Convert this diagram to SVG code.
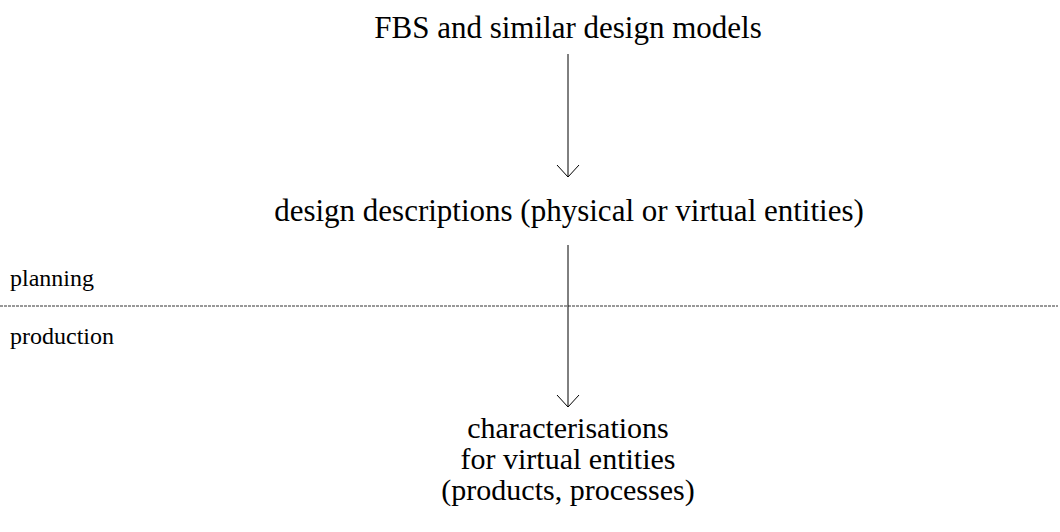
<svg xmlns="http://www.w3.org/2000/svg" width="1060" height="532" viewBox="0 0 1060 532">
  <style>
    text { font-family: 'Liberation Serif', 'Times New Roman', Times, serif; fill: #000; }
    .big { font-size: 31px; text-anchor: middle; }
    .stack { font-size: 30px; text-anchor: middle; }
    .small { font-size: 24px; }
    .arrow { stroke: #000; stroke-width: 1; fill: none; }
  </style>
  <defs>
    <!-- open V arrowhead, drawn pointing along +x -->
    <marker id="vhead" markerWidth="14" markerHeight="24" refX="13" refY="12" orient="auto" markerUnits="userSpaceOnUse" viewBox="0 0 14 24">
      <path d="M1,1 L13,12 L1,23" fill="none" stroke="#000" stroke-width="1"/>
    </marker>
  </defs>

  <rect width="1060" height="532" fill="#fff"/>

  <!-- planning / production boundary -->
  <line x1="0" y1="306" x2="1058" y2="306" stroke="#333" stroke-width="1" stroke-dasharray="3,1"/>
  <text class="small" x="10" y="286">planning</text>
  <text class="small" x="10" y="344">production</text>

  <g id="node-fbs">
    <text class="big" x="568" y="38">FBS and similar design models</text>
  </g>
  <g id="node-descriptions">
    <text class="big" x="569" y="221">design descriptions (physical or virtual entities)</text>
  </g>
  <g id="node-characterisations">
    <text class="stack" x="568" y="438">characterisations</text>
    <text class="stack" x="568" y="469">for virtual entities</text>
    <text class="stack" x="568" y="500">(products, processes)</text>
  </g>

  <g id="connectors">
    <line class="arrow" x1="568" y1="54" x2="568" y2="177" marker-end="url(#vhead)"/>
    <line class="arrow" x1="568" y1="245" x2="568" y2="407" marker-end="url(#vhead)"/>
  </g>
</svg>
